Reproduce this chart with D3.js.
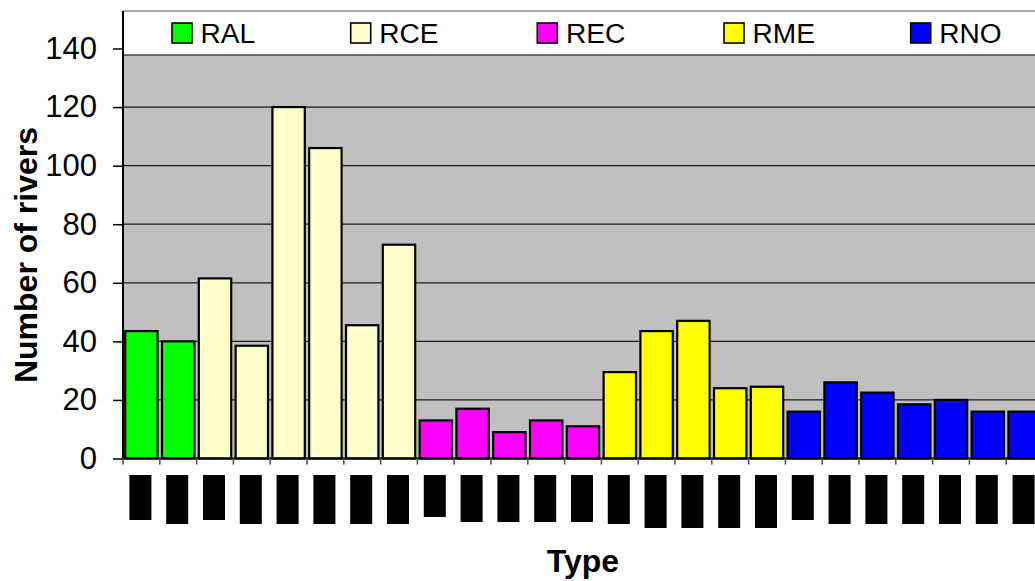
<!DOCTYPE html>
<html>
<head>
<meta charset="utf-8">
<script src="https://cdn.jsdelivr.net/npm/d3@7"></script>
<style>
  html, body { margin: 0; padding: 0; background: #fff; }
  svg { display: block; font-family: Arial, "Liberation Sans", sans-serif; }
</style>
</head>
<body>
<svg id="chart" width="1035" height="581"></svg>
<script>
// ---- data ----
const seriesNames = ["RAL", "RCE", "REC", "RME", "RNO"];
const seriesColors = ["#00FF00", "#FFFFCC", "#FF00FF", "#FFFF00", "#0000FF"];
const ralValues = [43.5, 40];
const rceValues = [61.5, 38.5, 120, 106, 45.5, 73];
const recValues = [13, 17, 9, 13, 11];
const rmeValues = [29.5, 43.5, 47, 24, 24.5];
const rnoValues = [16, 26, 22.5, 18.5, 20, 16, 16];
const yTicks = [0, 20, 40, 60, 80, 100, 120, 140];
// lengths of the (unreadable, blacked-out) category labels
const labelLengths = [45, 49, 45, 49, 49, 49, 49, 49, 42, 47, 47, 47, 47,
                      49, 53, 53, 53, 53, 45, 49, 49, 49, 49, 49, 49];

const seriesValues = [ralValues, rceValues, recValues, rmeValues, rnoValues];
const rows = [];
seriesValues.forEach((vals, si) => {
  vals.forEach((v, i) => rows.push({ id: seriesNames[si] + "-" + (i + 1), series: seriesNames[si], value: v }));
});
rows.forEach((r, i) => r.labelLen = labelLengths[i]);

// ---- layout ----
const W = 1035, H = 581;
const plotLeft = 123, plotRight = 1043, frameTop = 11, legendBottom = 55;
const svg = d3.select("#chart");
svg.append("rect").attr("width", W).attr("height", H).attr("fill", "#fff");

const x = d3.scaleBand().domain(rows.map(d => d.id)).range([plotLeft, plotRight])
  .paddingInner(0.12).paddingOuter(0.06);
const y = d3.scaleLinear().domain([0, 140]).range([458.5, 48.5]);
const color = d3.scaleOrdinal().domain(seriesNames).range(seriesColors);

// plot background
svg.append("rect").attr("x", plotLeft).attr("y", frameTop)
  .attr("width", plotRight - plotLeft).attr("height", y(0) - frameTop).attr("fill", "#C0C0C0");

// gridlines
svg.append("g").selectAll("line").data(yTicks.filter(t => t > 0)).join("line")
  .attr("x1", plotLeft).attr("x2", plotRight)
  .attr("y1", d => y(d)).attr("y2", d => y(d))
  .attr("stroke", "#1a1a1a").attr("stroke-width", 1.2);

// bars
svg.append("g").selectAll("rect").data(rows).join("rect")
  .attr("x", d => x(d.id)).attr("width", x.bandwidth())
  .attr("y", d => y(d.value)).attr("height", d => y(0) - y(d.value))
  .attr("fill", d => color(d.series))
  .attr("stroke", "#000").attr("stroke-width", 2.2);

// legend box (covers top of plot)
svg.append("rect").attr("x", plotLeft).attr("y", frameTop)
  .attr("width", plotRight - plotLeft).attr("height", legendBottom - frameTop)
  .attr("fill", "#fff");
svg.append("line").attr("x1", plotLeft).attr("x2", plotRight)
  .attr("y1", frameTop).attr("y2", frameTop).attr("stroke", "#555").attr("stroke-width", 1.2);
svg.append("line").attr("x1", plotLeft).attr("x2", plotRight)
  .attr("y1", legendBottom).attr("y2", legendBottom).attr("stroke", "#444").attr("stroke-width", 1.6);

const legendX = [172, 350.7, 537.3, 724, 910.7];
const lg = svg.append("g").selectAll("g").data(seriesNames).join("g")
  .attr("transform", (d, i) => `translate(${legendX[i]},23)`);
lg.append("rect").attr("width", 20).attr("height", 20)
  .attr("fill", d => color(d)).attr("stroke", "#000").attr("stroke-width", 1.6);
lg.append("text").attr("x", 27.5).attr("y", 19.7)
  .attr("font-size", 27).attr("fill", "#000")
  .attr("transform", "scale(1.04,1)")
  .text(d => d);

// y axis
const yAxis = d3.axisLeft(y).tickValues(yTicks).tickSize(10).tickPadding(16);
const yg = svg.append("g").attr("transform", `translate(${plotLeft},0)`).call(yAxis);
yg.select(".domain").remove();
yg.selectAll(".tick line").attr("stroke", "#000").attr("stroke-width", 1.5);
yg.selectAll(".tick text").attr("font-size", 31).attr("fill", "#000")
  .attr("font-family", "Arial, 'Liberation Sans', sans-serif");
svg.append("line").attr("x1", plotLeft).attr("x2", plotLeft)
  .attr("y1", frameTop).attr("y2", y(0) + 1).attr("stroke", "#000").attr("stroke-width", 2);

// x axis
const xAxisLine = svg.append("line").attr("x1", plotLeft).attr("x2", plotRight)
  .attr("y1", y(0)).attr("y2", y(0)).attr("stroke", "#000").attr("stroke-width", 2);
const boundaries = rows.map(d => x(d.id) - x.step() * x.paddingInner() / 2);
boundaries[0] = plotLeft;
svg.append("g").selectAll("line").data(boundaries).join("line")
  .attr("x1", d => d).attr("x2", d => d)
  .attr("y1", y(0)).attr("y2", y(0) + 6)
  .attr("stroke", "#555").attr("stroke-width", 1.6);

// blacked-out category labels
svg.append("g").selectAll("rect").data(rows).join("rect")
  .attr("x", d => x(d.id) + x.bandwidth() / 2 - 12)
  .attr("y", 475).attr("width", 22).attr("height", d => d.labelLen)
  .attr("fill", "#000");

// axis titles
svg.append("text").attr("x", (plotLeft + plotRight) / 2).attr("y", 572)
  .attr("text-anchor", "middle").attr("font-size", 32).attr("font-weight", "bold")
  .text("Type");
svg.append("text").attr("transform", "translate(37,255) rotate(-90)")
  .attr("text-anchor", "middle").attr("font-size", 32).attr("font-weight", "bold")
  .text("Number of rivers");
</script>
</body>
</html>
